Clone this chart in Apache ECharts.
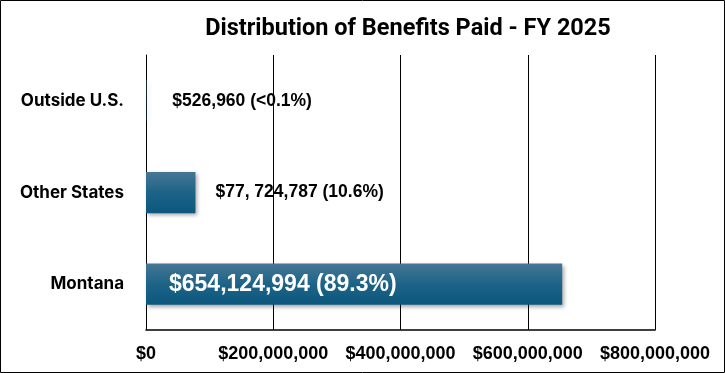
<!DOCTYPE html>
<html><head><meta charset="utf-8">
<script src="https://cdn.jsdelivr.net/npm/echarts@6/dist/echarts.min.js"></script>
<style>html,body{margin:0;padding:0;background:#fff}#c{width:725px;height:373px}</style>
</head><body><div id="c"></div>
<script>
const categories = ['Montana', 'Other States', 'Outside U.S.'];
const values = [654124994, 77724787, 526960];
const valueLabels = ['$654,124,994 (89.3%)', '$77, 724,787 (10.6%)', '$526,960 (<0.1%)'];
const tickLabels = ['$0', '$200,000,000', '$400,000,000', '$600,000,000', '$800,000,000'];

const chart = echarts.init(document.getElementById('c'));
const barColor = new echarts.graphic.LinearGradient(0, 0, 0, 1, [
  {offset: 0, color: '#477795'},
  {offset: 0.5, color: '#1d6387'},
  {offset: 1, color: '#0c577d'}
]);
const data = values.map((v, i) => {
  const inside = i === 0;
  return {
    value: v,
    label: inside ? {
      show: true, position: 'insideLeft', distance: 23,
      formatter: valueLabels[i], color: '#fff', fontSize: 23, fontWeight: 'bold',
      fontFamily: 'Liberation Sans, Arial, sans-serif'
    } : {
      show: true, position: 'right', distance: i === 1 ? 20 : 26,
      formatter: valueLabels[i], color: '#000', fontSize: 17.5, fontWeight: 'bold',
      fontFamily: 'Liberation Sans, Arial, sans-serif'
    }
  };
});
chart.setOption({
  animation: false,
  title: {
    text: 'Distribution of Benefits Paid - FY 2025',
    left: 403, top: 12, textAlign: 'center',
    textStyle: {fontFamily: 'Liberation Sans Narrow, Roboto, sans-serif', fontWeight: 'bold', fontSize: 23.5, color: '#000'}
  },
  graphic: [{type: 'rect', shape: {x: 0.5, y: 0.5, width: 724, height: 372}, style: {fill: 'none', stroke: '#000', lineWidth: 1}, silent: true}],
  grid: {left: 146, right: 70, top: 55, bottom: 43, containLabel: false},
  xAxis: {
    type: 'value', min: 0, max: 800000000, interval: 200000000,
    axisLine: {show: true, lineStyle: {color: '#000', width: 1.5}},
    axisTick: {show: false},
    splitLine: {show: true, lineStyle: {color: '#000', width: 1}},
    axisLabel: {
      margin: 15, color: '#000', fontSize: 18, fontWeight: 'bold',
      fontFamily: 'Liberation Sans, Arial, sans-serif',
      formatter: (v) => tickLabels[Math.round(v / 200000000)]
    }
  },
  yAxis: {
    type: 'category', data: categories,
    axisLine: {show: true, lineStyle: {color: '#000', width: 1}},
    axisTick: {show: false},
    axisLabel: {margin: 22, color: '#000', fontSize: 17, fontWeight: 'bold', fontFamily: 'Inter, Lato, sans-serif'}
  },
  series: [{
    type: 'bar', data: data, barWidth: '45%',
    itemStyle: {color: barColor, shadowColor: 'rgba(0,0,0,0.35)', shadowBlur: 4, shadowOffsetX: 2, shadowOffsetY: 2}
  }]
});
</script></body></html>
